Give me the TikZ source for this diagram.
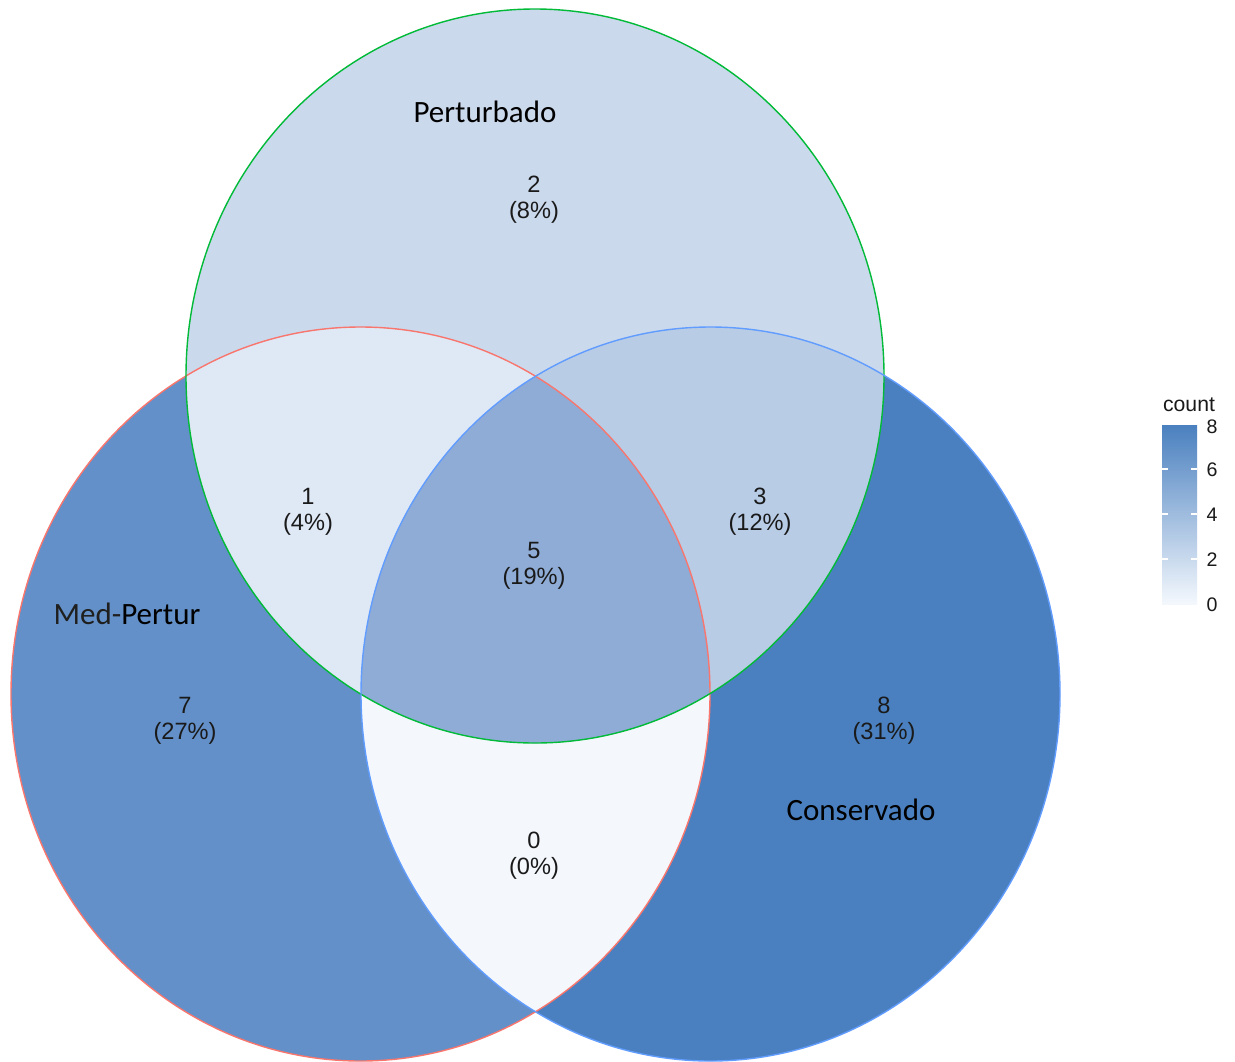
\documentclass[tikz,border=0pt]{standalone}
\usepackage{fontspec}
\newfontfamily\calib{Carlito}
\newfontfamily\arial{Liberation Sans}
\definecolor{cZero}{HTML}{F4F8FD}
\definecolor{cOne}{HTML}{DFE8F5}
\definecolor{cTwo}{HTML}{CBD9EC}
\definecolor{cThree}{HTML}{B8CCE6}
\definecolor{cFive}{HTML}{8FACD6}
\definecolor{cSeven}{HTML}{6390C8}
\definecolor{cEight}{HTML}{4A80BF}
\definecolor{cMid}{HTML}{A3BCDE}
\definecolor{eRed}{HTML}{F8766D}
\definecolor{eGreen}{HTML}{00BA38}
\definecolor{eBlue}{HTML}{619CFF}
\definecolor{txt}{HTML}{1A1A1A}
\tikzset{
  setlabel/.style={font=\calib\fontsize{15.5}{18}\selectfont, text=black, inner sep=0pt},
  countlabel/.style={font=\arial\fontsize{11.8}{13}\selectfont, text=txt, align=center, inner sep=0pt},
  legendlabel/.style={font=\arial\fontsize{9.8}{11}\selectfont, text=txt, inner sep=0pt},
  edge/.style={line width=0.7pt}
}
\begin{document}
\begin{tikzpicture}[x=0.5pt,y=-0.5pt]
\useasboundingbox (0,0) rectangle (1235,1061);
\fill[white] (0,0) rectangle (1235,1061);
\def\topC{(535,376) ellipse [x radius=349, y radius=367]}
\def\leftC{(360.5,694) ellipse [x radius=349.5, y radius=367]}
\def\rightC{(710.5,694) ellipse [x radius=349.5, y radius=367]}
% base fills
\fill[cSeven] \leftC;
\fill[cEight] \rightC;
\begin{scope}
  \clip \leftC;
  \fill[cZero] \rightC;
\end{scope}
\fill[cTwo] \topC;
\begin{scope}
  \clip \topC;
  \fill[cOne] \leftC;
  \fill[cThree] \rightC;
  \clip \leftC;
  \fill[cFive] \rightC;
\end{scope}
% outlines
\draw[edge, eRed] \leftC;
\draw[edge, eGreen] \topC;
\draw[edge, eBlue] \rightC;
% set labels
\node[setlabel] (lblTop) at (485,112) {Perturbado};
\node[setlabel] (lblLeft) at (127,614) {{\color{black!88}Med-}Pertur};
\node[setlabel] (lblRight) at (861,810) {Conservado};
% counts
\node[countlabel] (n2) at (534,200) {2\\(8\%)};
\node[countlabel] (n1) at (308,512) {1\\(4\%)};
\node[countlabel] (n3) at (760,512) {3\\(12\%)};
\node[countlabel] (n5) at (534,566) {5\\(19\%)};
\node[countlabel] (n7) at (185,721) {7\\(27\%)};
\node[countlabel] (n8) at (884,721) {8\\(31\%)};
\node[countlabel] (n0) at (534,856) {0\\(0\%)};
% legend
\node[legendlabel, font=\arial\fontsize{10.6}{12}\selectfont] (legTitle) at (1189,405) {count};
\shade[top color=cEight, middle color=cMid, bottom color=cZero] (1162,425) rectangle (1197,604);
\foreach \yy in {469,514,559} {
  \draw[white, line width=0.6pt] (1162,\yy) -- (1168,\yy);
  \draw[white, line width=0.6pt] (1191,\yy) -- (1197,\yy);
}
\node[legendlabel] (t8) at (1212,427) {8};
\node[legendlabel] (t6) at (1212,470) {6};
\node[legendlabel] (t4) at (1212,515) {4};
\node[legendlabel] (t2) at (1212,560) {2};
\node[legendlabel] (t0) at (1212,605) {0};
\end{tikzpicture}
\end{document}
